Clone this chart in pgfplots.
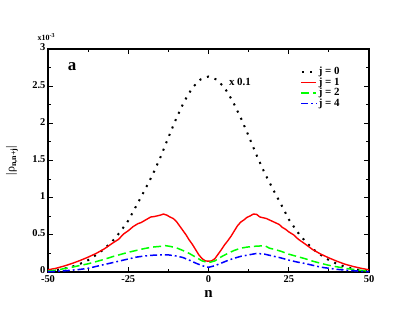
\documentclass[border=0pt]{standalone}
\usepackage{pgfplots}
\pgfplotsset{compat=1.18}
\usepackage{fontspec}
\setmainfont{Liberation Serif}

\pgfplotstableread{
n y
-50 0.012
-47.5 0.025
-45 0.045
-42.5 0.070
-40 0.110
-37.5 0.160
-35 0.230
-32.5 0.310
-30 0.410
-27.5 0.540
-25 0.690
-22.5 0.890
-20 1.090
-17.5 1.300
-15 1.540
-12.5 1.810
-10 2.070
-7.5 2.300
-5 2.480
-2.5 2.590
0 2.630
2.5 2.590
5 2.480
7.5 2.300
10 2.080
12.5 1.830
15 1.570
17.5 1.330
20 1.120
22.5 0.920
25 0.710
27.5 0.550
30 0.420
32.5 0.310
35 0.230
37.5 0.160
40 0.110
42.5 0.070
45 0.043
47.5 0.024
50 0.012
}\jzero

\pgfplotstableread{
n y
-50 0.030
-47.5 0.050
-45 0.080
-42.5 0.115
-40 0.155
-37.5 0.200
-35 0.250
-32.5 0.310
-30 0.385
-28 0.440
-26.5 0.510
-25 0.555
-23.5 0.610
-22 0.650
-21 0.665
-20 0.690
-19 0.715
-18 0.740
-17 0.745
-16 0.755
-15 0.765
-14 0.780
-13 0.765
-12 0.740
-11 0.720
-10 0.680
-9 0.620
-8 0.560
-7 0.500
-6 0.430
-5 0.370
-4 0.300
-3 0.230
-2 0.180
-1 0.150
0 0.145
1 0.150
2 0.180
3 0.240
4 0.300
5 0.365
6 0.420
7 0.480
8 0.550
9 0.620
10 0.670
11 0.700
12 0.735
13 0.755
14 0.780
15 0.775
16 0.740
17 0.730
18 0.720
19 0.700
20 0.680
21 0.660
22 0.640
23 0.600
24 0.575
25 0.540
26.5 0.500
28 0.440
30 0.380
32.5 0.300
35 0.240
37.5 0.190
40 0.145
42.5 0.105
45 0.075
47.5 0.050
50 0.030
}\jone

\pgfplotstableread{
n y
-50 0.012
-47.5 0.025
-45 0.045
-42.5 0.065
-40 0.088
-37.5 0.110
-35 0.140
-32.5 0.170
-30 0.205
-27.5 0.235
-25 0.265
-22.5 0.290
-20 0.315
-17.5 0.335
-15 0.345
-13.5 0.355
-12 0.345
-10 0.325
-8 0.290
-6 0.250
-4 0.200
-2 0.150
0 0.125
2 0.150
4 0.205
6 0.250
8 0.290
10 0.320
12 0.335
14 0.345
16 0.350
17.5 0.355
19 0.320
20.5 0.305
22.5 0.280
25 0.240
27.5 0.210
30 0.180
32.5 0.145
35 0.117
37.5 0.090
40 0.070
42.5 0.050
45 0.036
47.5 0.022
50 0.012
}\jtwo

\pgfplotstableread{
n y
-50 0.003
-47.5 0.008
-45 0.015
-42.5 0.025
-40 0.035
-37.5 0.050
-35 0.075
-32.5 0.100
-30 0.125
-27.5 0.150
-25 0.175
-22.5 0.200
-20 0.215
-17.5 0.225
-15 0.230
-12.5 0.230
-10 0.215
-8 0.195
-6 0.160
-4 0.120
-2 0.085
0 0.063
2 0.085
4 0.120
6 0.155
8 0.185
10 0.210
12.5 0.230
15 0.250
17.5 0.240
20 0.215
22.5 0.190
25 0.160
27.5 0.135
30 0.115
32.5 0.090
35 0.065
37.5 0.050
40 0.036
42.5 0.025
45 0.018
47.5 0.010
50 0.004
}\jfour

\begin{document}
\begin{tikzpicture}
\path[use as bounding box] (-48bp,-49bp) rectangle (367bp,272bp);
\begin{axis}[
  at={(0,0)}, anchor=south west,
  scale only axis, width=321bp, height=223bp,
  xmin=-50, xmax=50, ymin=0, ymax=3,
  xtick={-50,-25,0,25,50},
  xticklabels={-50,-25,0,25,50},
  ytick={0,0.5,1,1.5,2,2.5,3},
  yticklabels={0,0.5,1,1.5,2,2.5,3},
  minor x tick num=1, minor y tick num=1,
  tick align=inside, tick pos=both,
  major tick length=5bp, minor tick length=3bp,
  axis line style={line width=1.6bp},
  every tick/.style={black, line width=0.9bp},
  tick label style={font=\fontsize{10.5}{12}\selectfont\bfseries},
  xticklabel style={yshift=-0.5bp},
  yticklabel style={xshift=1bp, yshift=1.5bp},
  every axis y label/.style={at={(rel axis cs:0,0.5)}, xshift=-36bp, rotate=90, anchor=center},
  every axis x label/.style={at={(rel axis cs:0.5,0)}, yshift=-22bp, anchor=center},
  ylabel={\fontsize{12}{14}\selectfont |ρ\textsubscript{\bfseries n,n+j}|},
  xlabel={\fontsize{15}{16}\selectfont\bfseries n},
  legend style={at={(rel axis cs:0.776,0.935)}, anchor=north west, draw=none, fill=none,
    font=\fontsize{11}{12}\selectfont\bfseries, row sep=-1.5bp,
    nodes={inner sep=1.5bp}},
  legend image code/.code={\draw[#1] (0bp,0bp) -- (15bp,0bp);},
  legend cell align=left,
  clip=false,
]
\addplot[black, line width=2bp, line cap=butt, dash pattern=on 2bp off 6bp, dash phase=-1bp] table {\jzero};
\addlegendentry{j = 0}
\addplot[red, line width=1.4bp] table {\jone};
\addlegendentry{j = 1}
\addplot[green, line width=1.5bp, dash pattern=on 8bp off 4bp] table {\jtwo};
\addlegendentry{j = 2}
\addplot[blue, line width=1.5bp, dash pattern=on 7bp off 3bp on 1.8bp off 3bp] table {\jfour};
\addlegendentry{j = 4}
\node[font=\fontsize{8}{9}\selectfont\bfseries, anchor=west, inner sep=0.5bp] at (rel axis cs:0,1) [xshift=-11bp, yshift=12bp] {x10\textsuperscript{-3}};
\node[font=\fontsize{17}{18}\selectfont\bfseries] at (axis cs:-42.5,2.76) {a};
\node[font=\fontsize{11}{12}\selectfont\bfseries] at (axis cs:9.8,2.56) {x 0.1};
\end{axis}
\end{tikzpicture}
\end{document}
